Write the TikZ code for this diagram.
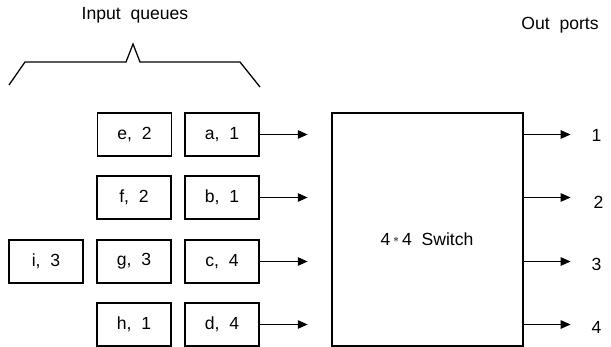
\documentclass[tikz,border=0pt]{standalone}
\usepackage{fontspec}
\setmainfont{Liberation Sans}
\usetikzlibrary{positioning, arrows.meta}

\begin{document}
\begin{tikzpicture}[
  x=0.025cm, y=-0.025cm,
  every node/.style={font=\fontsize{12.5}{15}\selectfont},
  arr/.style={-{Triangle[length=7pt, width=6pt]}, line width=0.8pt},
  qbox/.style={draw, line width=0.9pt, minimum width=1.85cm, minimum height=1.07cm,
               inner sep=0pt},
  swbox/.style={draw, line width=0.9pt, minimum width=4.77cm, minimum height=5.82cm,
                inner sep=0pt}
]
\useasboundingbox (0,0) rectangle (611,347);

%% Head queue (front of each input queue)
\node[qbox] (a) at (222,134.5) {a,\ \ 1};
\node[qbox] (b) at (222,197.5) {b,\ \ 1};
\node[qbox] (c) at (222,261.5) {c,\ \ 4};
\node[qbox] (d) at (222,324.5) {d,\ \ 4};

%% Second place in queue
\node[qbox] (e) at (134.5,134.5) {e,\ \ 2};
\node[qbox] (f) at (134,197.5) {f,\ \ 2};
\node[qbox] (g) at (134,261.5) {g,\ \ 3};
\node[qbox] (h) at (134,324.5) {h,\ \ 1};

%% Third place
\node[qbox] (i) at (46,261.5) {i,\ \ 3};

%% Switch
\node[swbox] (sw) at (427.5,229.5) {};
\node (swtext) at (427,239) {4\,\raisebox{0.25ex}{\footnotesize$\ast$}\,4\ \ Switch};

%% Titles
\node (inq) at (135,15) {Input\ \ queues};
\node (outp) at (560,25) {Out\ \ ports};

%% Brace over the queues
\draw[line width=0.9pt] (9,85) -- (25,62) -- (126,62) -- (133,44)
  -- (140,62) -- (240,62) -- (260,87);

%% ---- Arrows ----
% queues -> switch
\foreach \q in {a,b,c,d}
  \draw[arr] (\q.east) -- ++(48,0);

% switch -> out ports
\draw[arr] (sw.east |- a.east) -- ++(47,0) coordinate (o1);
\draw[arr] (sw.east |- b.east) -- ++(47,0) coordinate (o2);
\draw[arr] (sw.east |- c.east) -- ++(47,0) coordinate (o3);
\draw[arr] (sw.east |- d.east) -- ++(47,0) coordinate (o4);

\node[right=0.4cm of o1, yshift=-0.03cm] (p1) {1};
\node[right=0.45cm of o2, yshift=-0.12cm] (p2) {2};
\node[right=0.4cm of o3, yshift=-0.08cm] (p3) {3};
\node[right=0.4cm of o4, yshift=-0.08cm] (p4) {4};

\end{tikzpicture}
\end{document}
